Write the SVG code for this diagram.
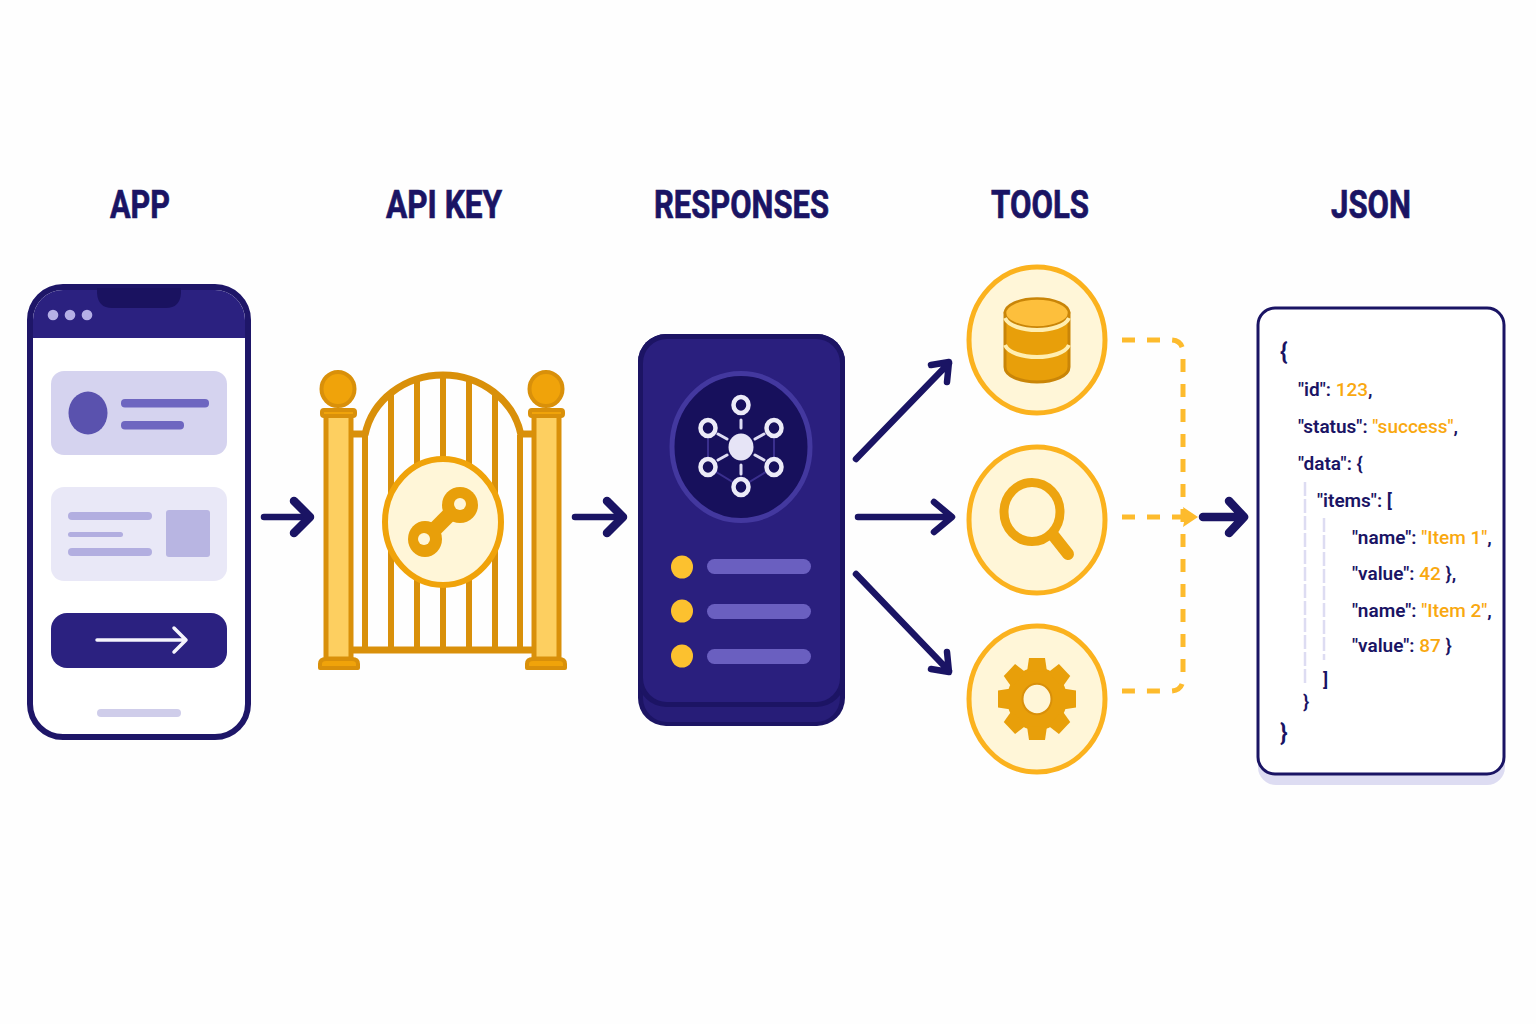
<svg xmlns="http://www.w3.org/2000/svg" width="1536" height="1024" viewBox="0 0 1536 1024">
<style>
.title{font-family:"Roboto","Liberation Sans",sans-serif;font-weight:700;font-size:39px;fill:#1a1464;stroke:#1a1464;stroke-width:.7}
.code{font-family:"Roboto","Liberation Sans",sans-serif;font-weight:600;font-size:19px;fill:#1a1464}
.brace{font-size:23px;font-weight:700}
.val{fill:#f9a80f;font-weight:500}
.navy{fill:none;stroke:#1a1464;stroke-linecap:round;stroke-linejoin:round}
.dash{fill:none;stroke:#fdbb2d;stroke-width:5;stroke-dasharray:13 12}
.gold{fill:none;stroke:#d9900a}
.bar{fill:none;stroke:#d9900a;stroke-width:6}
.post{fill:#fdcf60;stroke:#d9900a;stroke-width:5}
.foot{fill:#f0a30a;stroke:#d9900a;stroke-width:4;stroke-linejoin:round}
.tool{fill:#fff6d8;stroke:#fbb21e;stroke-width:5}
.net{fill:#17105c;stroke:#ecebf8;stroke-width:4.5}
.sp{stroke:#dedcf3;stroke-width:3;stroke-linecap:round}
.hex{stroke:#3a2f8e;stroke-width:2;fill:none}
.rb{fill:#6a5fc0}
.dot{fill:#fcc12f}
</style>
<rect width="1536" height="1024" fill="#fefefe"/>
<g id="labels">
<text class="title" x="110" y="218" textLength="60" lengthAdjust="spacingAndGlyphs">APP</text>
<text class="title" x="386" y="218" textLength="116" lengthAdjust="spacingAndGlyphs">API KEY</text>
<text class="title" x="654" y="218" textLength="175" lengthAdjust="spacingAndGlyphs">RESPONSES</text>
<text class="title" x="991" y="218" textLength="98" lengthAdjust="spacingAndGlyphs">TOOLS</text>
<text class="title" x="1331" y="218" textLength="80" lengthAdjust="spacingAndGlyphs">JSON</text>
</g>
<g id="app">
<rect x="30" y="287" width="218" height="450" rx="33" fill="#fff" stroke="#1e1668" stroke-width="6"/>
<path d="M33 338V320a30 30 0 0 1 30-30H215a30 30 0 0 1 30 30V338Z" fill="#2b2180"/>
<path d="M97 288H181V293Q180 308 166 308H112Q98 308 97 293Z" fill="#1a1260"/>
<circle cx="53" cy="315" r="5.3" fill="#b5b0e6"/><circle cx="70" cy="315" r="5.3" fill="#b5b0e6"/><circle cx="87" cy="315" r="5.3" fill="#b5b0e6"/>
<rect x="51" y="371" width="176" height="84" rx="13" fill="#d5d3ef"/>
<ellipse cx="88" cy="413" rx="19.5" ry="21.5" fill="#5a52ae"/>
<rect x="121" y="399" width="88" height="8.5" rx="4" fill="#6e66c0"/>
<rect x="121" y="421" width="63" height="8.5" rx="4" fill="#6e66c0"/>
<rect x="51" y="487" width="176" height="94" rx="13" fill="#e9e8f7"/>
<rect x="68" y="512" width="84" height="8" rx="4" fill="#b2aee0"/>
<rect x="68" y="532" width="55" height="5" rx="2.5" fill="#b2aee0"/>
<rect x="68" y="548" width="84" height="8" rx="4" fill="#b2aee0"/>
<rect x="166" y="510" width="44" height="47" rx="3" fill="#b8b5e2"/>
<rect x="51" y="613" width="176" height="55" rx="16" fill="#2b2180"/>
<path d="M97 640H186M174 628L186 640L174 652" fill="none" stroke="#f5f4fc" stroke-width="3.5" stroke-linecap="round" stroke-linejoin="round"/>
<rect x="97" y="709" width="84" height="8" rx="4" fill="#cfcdea"/>
</g>
<g id="api-key">
<path class="bar" d="M365 435V650M391 392V650M417 378V650M443 375V650M469 378V650M495 392V650M520 435V650"/>
<path class="gold" stroke-width="7" d="M365 435C372 400 405 375 443 375C481 375 514 400 521 435"/>
<path class="gold" stroke-width="7" d="M353 434H366M520 434H533M353 650H533"/>
<rect class="post" x="326" y="414" width="25" height="245"/>
<rect class="post" x="534" y="414" width="25" height="245"/>
<ellipse cx="338" cy="389" rx="16.5" ry="17" fill="#f0a30a" stroke="#d9900a" stroke-width="4"/>
<ellipse cx="546" cy="389" rx="16.5" ry="17" fill="#f0a30a" stroke="#d9900a" stroke-width="4"/>
<rect class="foot" x="322" y="410" width="33" height="6" rx="2"/>
<rect class="foot" x="530" y="410" width="33" height="6" rx="2"/>
<path class="foot" d="M320 668V664Q320 659 326 659H352Q358 659 358 664V668Z" fill="#fdcf60"/>
<path class="foot" d="M527 668V664Q527 659 533 659H559Q565 659 565 664V668Z" fill="#fdcf60"/>
<ellipse cx="443" cy="522" rx="58" ry="63" fill="#fff6d8" stroke="#f0a30a" stroke-width="6"/>
<path d="M425 539L459 505" stroke="#e89f0a" stroke-width="15"/>
<ellipse cx="425" cy="539" rx="17" ry="18" fill="#e89f0a"/><ellipse cx="460" cy="505" rx="18" ry="18" fill="#e89f0a"/>
<circle cx="424" cy="539" r="6" fill="#fff6d8"/><circle cx="460" cy="504" r="6" fill="#fff6d8"/>
</g>
<g id="responses">
<rect x="638" y="334" width="207" height="392" rx="28" fill="#1c1464"/>
<rect x="643" y="600" width="197" height="122" rx="24" fill="#271d78"/>
<rect x="638" y="334" width="207" height="373" rx="28" fill="#1c1464"/>
<rect x="643" y="339" width="197" height="363" rx="24" fill="#2a1f7e"/>
<ellipse cx="741" cy="447" rx="69" ry="73.5" fill="#17105c" stroke="#43389f" stroke-width="5"/>
<path class="hex" d="M708 428V467L741 487L774 467V428"/>
<path class="sp" d="M741 420V428M741 465V474M718 434L727 439M764 434L755 439M718 460L727 455M764 460L755 455"/>
<ellipse class="net" cx="741" cy="405" rx="7.5" ry="8"/>
<ellipse class="net" cx="708" cy="428" rx="7.5" ry="8"/>
<ellipse class="net" cx="774" cy="428" rx="7.5" ry="8"/>
<ellipse class="net" cx="708" cy="467" rx="7.5" ry="8"/>
<ellipse class="net" cx="774" cy="467" rx="7.5" ry="8"/>
<ellipse class="net" cx="741" cy="487" rx="7.5" ry="8"/>
<ellipse cx="741" cy="447" rx="12.5" ry="13.5" fill="#e6e4f6"/>
<ellipse class="dot" cx="682" cy="567" rx="11" ry="11.5"/><rect class="rb" x="707" y="559" width="104" height="15" rx="7.5"/>
<ellipse class="dot" cx="682" cy="611" rx="11" ry="11.5"/><rect class="rb" x="707" y="604" width="104" height="15" rx="7.5"/>
<ellipse class="dot" cx="682" cy="656" rx="11" ry="11.5"/><rect class="rb" x="707" y="649" width="104" height="15" rx="7.5"/>
</g>
<g id="tool-database">
<ellipse class="tool" cx="1037" cy="340" rx="68" ry="73"/>
<path d="M1005 313V367C1005 376 1020 382 1037 382S1069 376 1069 367V313Z" fill="#e89f0a" stroke="#c98508" stroke-width="3"/>
<ellipse cx="1037" cy="313" rx="32" ry="14.5" fill="#fdbf3c" stroke="#c98508" stroke-width="2.5"/>
<path d="M1005 318C1012 334 1062 334 1069 318M1005 345C1012 361 1062 361 1069 345" fill="none" stroke="#ffeeb0" stroke-width="4"/>
</g>
<g id="tool-search">
<ellipse class="tool" cx="1037" cy="520" rx="68" ry="73"/>
<ellipse cx="1032" cy="512" rx="28" ry="29.5" fill="none" stroke="#eda40f" stroke-width="9"/>
<path d="M1053 535L1068 554" fill="none" stroke="#eda40f" stroke-width="12" stroke-linecap="round"/>
</g>
<g id="tool-settings">
<ellipse class="tool" cx="1037" cy="699" rx="68" ry="73"/>
<g transform="translate(1037 699) scale(1 1.05)" fill="#e89f0a">
<circle r="30"/>
<path d="M-8 -39H8L10 -26H-10Z"/>
<path transform="rotate(45)" d="M-8 -39H8L10 -26H-10Z"/>
<path transform="rotate(90)" d="M-8 -39H8L10 -26H-10Z"/>
<path transform="rotate(135)" d="M-8 -39H8L10 -26H-10Z"/>
<path transform="rotate(180)" d="M-8 -39H8L10 -26H-10Z"/>
<path transform="rotate(225)" d="M-8 -39H8L10 -26H-10Z"/>
<path transform="rotate(270)" d="M-8 -39H8L10 -26H-10Z"/>
<path transform="rotate(315)" d="M-8 -39H8L10 -26H-10Z"/>
<circle r="14.5" fill="#fff6d8" stroke="#d9900a" stroke-width="2"/>
</g>
</g>
<g id="json">
<rect x="1258" y="320" width="247" height="465" rx="18" fill="#dddcf2"/>
<rect x="1258" y="308" width="246" height="466" rx="17" fill="#fff" stroke="#1a1464" stroke-width="3"/>
<path d="M1305 482V685M1324 518V660" fill="none" stroke="#dddcf2" stroke-width="2.5" stroke-dasharray="14 3"/>
<text class="code brace" x="1280" y="360">{</text>
<text class="code" x="1298" y="396">"id": <tspan class="val">123</tspan>,</text>
<text class="code" x="1298" y="433">"status": <tspan class="val">"success"</tspan>,</text>
<text class="code" x="1298" y="470">"data": {</text>
<text class="code" x="1317" y="507">"items": [</text>
<text class="code" x="1352" y="544">"name": <tspan class="val">"Item 1"</tspan>,</text>
<text class="code" x="1352" y="580">"value": <tspan class="val">42</tspan> },</text>
<text class="code" x="1352" y="617">"name": <tspan class="val">"Item 2"</tspan>,</text>
<text class="code" x="1352" y="652">"value": <tspan class="val">87</tspan> }</text>
<text class="code" x="1323" y="686">]</text>
<text class="code" x="1303" y="708">}</text>
<text class="code brace" x="1280" y="741">}</text>
</g>
<g id="connectors">
<path class="navy" stroke-width="6.5" d="M264 517H306"/><path class="navy" stroke-width="8.5" d="M294 501L310 517L294 533"/>
<path class="navy" stroke-width="6.5" d="M575 517H619"/><path class="navy" stroke-width="8.5" d="M607 501L623 517L607 533"/>
<path class="navy" stroke-width="6.5" d="M856 459L949 363M931 365L949 362L947 382"/>
<path class="navy" stroke-width="6.5" d="M858 517H951M934 502L952 517L934 532"/>
<path class="navy" stroke-width="6.5" d="M856 574L949 671M931 669L949 672L947 652"/>
<path class="dash" d="M1122 340H1170Q1183 340 1183 353V678Q1183 691 1170 691H1122"/>
<path class="dash" d="M1122 517H1186"/>
<path d="M1183 507L1198 517L1183 527L1185 517Z" fill="#fdbb2d"/>
<path class="navy" stroke-width="8.5" d="M1203 517H1240M1229 501L1244 517L1229 533"/>
</g>
</svg>
